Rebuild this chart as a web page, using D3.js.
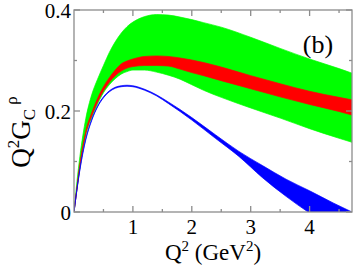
<!DOCTYPE html>
<html><head><meta charset="utf-8">
<script src="https://cdn.jsdelivr.net/npm/d3@7"></script>
<style>body{margin:0;background:#fff}svg{display:block}</style>
</head><body><svg id="c" width="354" height="268"></svg>
<script>
const xs = [0,0.05,0.1,0.2,0.3,0.4,0.5,0.6,0.7,0.8,0.9,1.0,1.2,1.4,1.6,1.8,2.0,2.2,2.5,3.0,3.5,4.0,4.5,4.72];
const greenUpper = [0,0.06,0.11,0.185,0.232,0.263,0.290,0.316,0.337,0.354,0.367,0.376,0.387,0.391,0.390,0.386,0.381,0.375,0.366,0.346,0.324,0.303,0.284,0.275];
const greenLower = [0,0.045,0.088,0.152,0.187,0.214,0.236,0.252,0.264,0.273,0.278,0.281,0.281,0.277,0.271,0.263,0.252,0.241,0.227,0.206,0.186,0.165,0.146,0.138];
const redUpper   = [0,0.048,0.094,0.160,0.196,0.225,0.248,0.266,0.281,0.293,0.299,0.303,0.308,0.309,0.308,0.305,0.301,0.296,0.287,0.270,0.254,0.239,0.227,0.222];
const redLower   = [0,0.046,0.091,0.155,0.190,0.218,0.240,0.257,0.270,0.279,0.285,0.288,0.290,0.290,0.289,0.283,0.276,0.270,0.260,0.244,0.228,0.213,0.199,0.192];
const blueX      = [0,0.05,0.1,0.2,0.3,0.4,0.5,0.6,0.7,0.8,0.9,1.0,1.2,1.4,1.6,1.8,2.0,2.4,2.8,3.2,3.6,4.0,4.4,4.72];
const blueUpper  = [0,0.045,0.085,0.145,0.183,0.210,0.228,0.240,0.247,0.250,0.251,0.250,0.243,0.232,0.218,0.203,0.187,0.153,0.120,0.092,0.065,0.042,0.018,0.0];
const blueLower  = [0,0.044,0.083,0.143,0.181,0.208,0.226,0.238,0.245,0.248,0.249,0.248,0.241,0.230,0.215,0.199,0.182,0.146,0.110,0.068,0.031,-0.002,-0.03,-0.05];
const xTicks = [1,2,3,4];
const xMinor = [0.5,1.5,2.5,3.5,4.5];
const yTicks = [0,0.2,0.4];
const yMinor = [0.1,0.3];

const FONT = "'Liberation Serif','Times New Roman','DejaVu Serif',serif";
const svg = d3.select("#c");
const L=74,T=10,R=352,B=212;
const x = d3.scaleLinear().domain([0,4.72]).range([L,R]);
const y = d3.scaleLinear().domain([0,0.4]).range([B,T]);

svg.append("clipPath").attr("id","clip").append("rect").attr("x",L).attr("y",T).attr("width",R-L).attr("height",B-T);
const g = svg.append("g").attr("clip-path","url(#clip)");

function band(xa, up, lo, color){
  const d = xa.map((v,i)=>({x:v,u:up[i],l:lo[i]}));
  const a = d3.area().x(p=>x(p.x)).y0(p=>y(p.l)).y1(p=>y(p.u)).curve(d3.curveMonotoneX);
  g.append("path").attr("d",a(d)).attr("fill",color).attr("stroke",color).attr("stroke-width",0.7);
}
band(xs, greenUpper, greenLower, "#00ff00");
band(xs, redUpper, redLower, "#ff0000");
band(blueX, blueUpper, blueLower, "#0000ff");

const ax = "#8c8c8c";
const fr = svg.append("g").attr("stroke",ax).attr("stroke-width",1.3).attr("fill","none");
fr.append("rect").attr("x",L).attr("y",T).attr("width",R-L).attr("height",B-T);
xTicks.forEach(t=>{fr.append("line").attr("x1",x(t)).attr("x2",x(t)).attr("y1",B).attr("y2",B-6);
  fr.append("line").attr("x1",x(t)).attr("x2",x(t)).attr("y1",T).attr("y2",T+6);});
xMinor.forEach(t=>{fr.append("line").attr("x1",x(t)).attr("x2",x(t)).attr("y1",B).attr("y2",B-3);
  fr.append("line").attr("x1",x(t)).attr("x2",x(t)).attr("y1",T).attr("y2",T+3);});
yTicks.forEach(t=>{fr.append("line").attr("y1",y(t)).attr("y2",y(t)).attr("x1",L).attr("x2",L+6);
  fr.append("line").attr("y1",y(t)).attr("y2",y(t)).attr("x1",R).attr("x2",R-6);});
yMinor.forEach(t=>{fr.append("line").attr("y1",y(t)).attr("y2",y(t)).attr("x1",L).attr("x2",L+3);
  fr.append("line").attr("y1",y(t)).attr("y2",y(t)).attr("x1",R).attr("x2",R-3);});

function txt(){ return svg.append("text").attr("font-family",FONT).attr("fill","#000"); }
xTicks.forEach(t=>txt().attr("x",x(t)).attr("y",234).attr("text-anchor","middle").attr("font-size",21).text(t));
yTicks.forEach(t=>txt().attr("x",71).attr("y",y(t)+7.5).attr("text-anchor","end").attr("font-size",21).text(t===0?"0":t.toFixed(1)));

const xt = txt().attr("x",213).attr("y",260).attr("text-anchor","middle").attr("font-size",23);
xt.append("tspan").text("Q");
xt.append("tspan").attr("font-size",15).attr("dy",-9).text("2");
xt.append("tspan").attr("dy",9).text(" (GeV");
xt.append("tspan").attr("font-size",15).attr("dy",-9).text("2");
xt.append("tspan").attr("dy",9).text(")");

const yt = txt().attr("transform","translate(30,132) rotate(-90)").attr("text-anchor","middle").attr("font-size",27);
yt.append("tspan").text("Q");
yt.append("tspan").attr("font-size",17).attr("dy",-11).text("2");
yt.append("tspan").attr("dy",11).text("G");
yt.append("tspan").attr("font-size",17).attr("dy",5).text("C");
yt.append("tspan").attr("font-size",17).attr("dy",-18).attr("dx",4).text("ρ");

txt().attr("x",318).attr("y",53).attr("text-anchor","middle").attr("font-size",26).text("(b)");
</script></body></html>
